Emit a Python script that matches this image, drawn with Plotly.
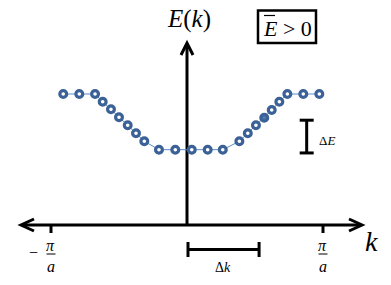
import plotly.graph_objects as go

# ---- data (k in units of pi/a, E in arbitrary units) ----
k_vals = [-0.910, -0.792, -0.676, -0.620, -0.559, -0.500, -0.436, -0.375, -0.314,
          -0.206, -0.086, 0.035, 0.152, 0.263, 0.385, 0.447, 0.507, 0.568, 0.623,
          0.679, 0.738, 0.855, 0.973]
E_vals = [1.000, 1.000, 1.000, 0.941, 0.883, 0.822, 0.761, 0.700, 0.639,
          0.575, 0.575, 0.575, 0.575, 0.575, 0.639, 0.700, 0.761, 0.819, 0.878,
          0.941, 1.000, 1.000, 1.000]
highlight_index = 17
tick_k = [-1.0, 1.0]
delta_k = [0.0, 0.53]
delta_E = [0.55, 0.80]
delta_E_k = 0.88

# ---- scale helpers (pixels -> data) ----
W, H = 391, 285
KX0, KS = 187.0, 136.0
EY0, ES = 225.0, 131.0
def xd(px): return (px - KX0) / KS
def yd(py): return (EY0 - py) / ES
def dx(p): return p / KS
def dy(p): return p / ES

BLUE = "#3b6196"
FILL_HI = "#4a7ab5"
LINE_BLUE = "#5d8cc8"
FONT = "Liberation Serif"

fills = ["white"] * len(k_vals)
fills[highlight_index] = FILL_HI

fig = go.Figure()
fig.add_trace(go.Scatter(
    x=k_vals, y=E_vals, mode="lines+markers",
    line=dict(color=LINE_BLUE, width=1),
    marker=dict(symbol="circle", size=6.8, color=fills,
                line=dict(color=BLUE, width=3.2)),
    hoverinfo="skip"))

shapes = []
def line(x0, y0, x1, y1, w=3):
    shapes.append(dict(type="line", xref="x", yref="y", x0=x0, y0=y0, x1=x1, y1=y1,
                       line=dict(color="black", width=w), layer="below"))
def path(pts, w=3):
    d = "M" + " L".join(f"{x},{y}" for x, y in pts)
    shapes.append(dict(type="path", xref="x", yref="y", path=d,
                       line=dict(color="black", width=w), layer="below"))

# horizontal k axis with arrowheads
line(xd(22), 0, xd(361), 0)
path([(xd(34), dy(6)), (xd(21), 0), (xd(34), -dy(6))])
path([(xd(349), dy(6)), (xd(362), 0), (xd(349), -dy(6))])
# vertical E axis with arrowhead
line(0, 0, 0, yd(44))
path([(-dx(6), yd(55)), (0, yd(43)), (dx(6), yd(55))])
# ticks at +-pi/a
for t in tick_k:
    line(t, 0, t, -dy(8))
# fraction bars
for t in tick_k:
    line(t - dx(4.5), yd(254), t + dx(4.5), yd(254), w=1)

# delta k bar
line(delta_k[0], yd(249.5), delta_k[1], yd(249.5))
for kk in delta_k:
    off = dx(1) if kk == delta_k[0] else 0
    line(kk + off, yd(242), kk + off, yd(257))
# delta E bar
line(delta_E_k, delta_E[0], delta_E_k, delta_E[1])
for ee in delta_E:
    line(delta_E_k - dx(7), ee, delta_E_k + dx(7), ee)

# box for E-bar > 0
shapes.append(dict(type="rect", xref="x", yref="y", x0=xd(258), x1=xd(316),
                   y0=yd(10.5), y1=yd(43), line=dict(color="black", width=2.5)))
# overline on E
line(xd(264), yd(15.5), xd(275), yd(15.5), w=1.2)

ann = []
def text(x, y, s, size, xanchor="center"):
    ann.append(dict(x=x, y=y, xref="x", yref="y", text=s, showarrow=False,
                    xanchor=xanchor, yanchor="middle",
                    font=dict(family=FONT, size=size, color="black")))

text(xd(189), yd(19), "<i>E</i>(<i>k</i>)", 25)
text(xd(287), yd(28.5), "<i>E</i> &gt; 0", 22)
text(xd(371), yd(241), "<i>k</i>", 28)
# -pi/a and pi/a
text(xd(33), yd(252), "−", 16)
for t in tick_k:
    text(t - dx(0.5), yd(245), "<i>π</i>", 16)
    text(t, yd(266.5), "<i>a</i>", 16)
text(xd(223), yd(267), "Δ<i>k</i>", 14)
text(xd(317), yd(140), "Δ<i>E</i>", 13, xanchor="left")

fig.update_layout(
    width=W, height=H, margin=dict(l=0, r=0, t=0, b=0),
    paper_bgcolor="white", plot_bgcolor="white", showlegend=False,
    xaxis=dict(range=[xd(0), xd(W)], visible=False, fixedrange=True),
    yaxis=dict(range=[yd(H), yd(0)], visible=False, fixedrange=True),
    shapes=shapes, annotations=ann)

fig.write_html("out.html")
